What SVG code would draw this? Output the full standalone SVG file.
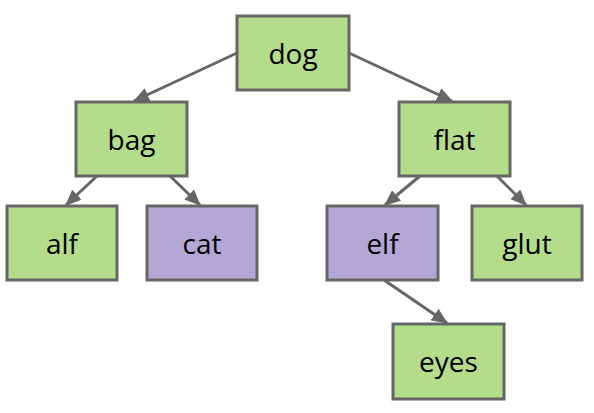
<svg xmlns="http://www.w3.org/2000/svg" width="594" height="413" viewBox="0 0 594 413">
<defs>
<style>
.n rect{stroke:#666;stroke-width:3}
.g rect{fill:#b3dc8b}
.p rect{fill:#b4a7d6}
.n text{font-family:"Open Sans","Liberation Sans",sans-serif;font-size:28px;fill:#000;text-anchor:middle}
.e line{stroke:#666;stroke-width:3;marker-end:url(#a)}
</style>
<marker id="a" markerUnits="userSpaceOnUse" markerWidth="16" markerHeight="14" refX="15" refY="7" orient="auto" viewBox="0 0 16 14">
<path d="M0,0 L16,7 L0,14 Z" fill="#666"/>
</marker>
</defs>
<rect width="594" height="413" fill="#fff"/>
<g class="e">
<line x1="237" y1="53" x2="134" y2="101"/>
<line x1="349" y1="53" x2="452" y2="101"/>
<line x1="97" y1="176" x2="66" y2="205"/>
<line x1="170" y1="176" x2="200" y2="205"/>
<line x1="420" y1="176" x2="385" y2="205"/>
<line x1="497" y1="176" x2="526" y2="205"/>
<line x1="384" y1="280" x2="447" y2="323"/>
</g>
<g id="dog" class="n g"><rect x="237" y="16" width="112" height="74"/><text x="293" y="64">dog</text></g>
<g id="bag" class="n g"><rect x="76" y="102" width="111" height="74"/><text x="131.5" y="150">bag</text></g>
<g id="flat" class="n g"><rect x="399" y="102" width="111" height="74"/><text x="454.5" y="150">flat</text></g>
<g id="alf" class="n g"><rect x="7" y="206" width="110" height="74"/><text x="62" y="254">alf</text></g>
<g id="cat" class="n p"><rect x="147" y="206" width="110" height="74"/><text x="202" y="254">cat</text></g>
<g id="elf" class="n p"><rect x="327" y="206" width="111" height="74"/><text x="382.5" y="254">elf</text></g>
<g id="glut" class="n g"><rect x="472" y="206" width="110" height="74"/><text x="527" y="254">glut</text></g>
<g id="eyes" class="n g"><rect x="393" y="324" width="111" height="75"/><text x="448.5" y="372">eyes</text></g>
</svg>
